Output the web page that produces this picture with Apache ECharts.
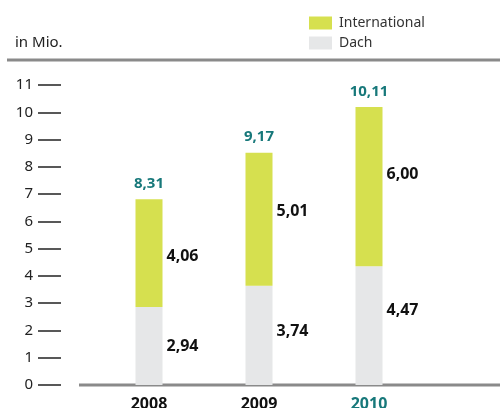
<!DOCTYPE html>
<html>
<head>
<meta charset="UTF-8">
<title>in Mio.</title>
<style>
  html, body { margin: 0; padding: 0; background: #fff; }
  #chart { width: 500px; height: 408px; }
</style>
</head>
<body>
<div id="chart"></div>
<script src="https://cdn.jsdelivr.net/npm/echarts@6/dist/echarts.min.js"></script>
<script>
// data
var years = ['2008', '2009', '2010'];
var dach = [2.94, 3.74, 4.47];
var international = [4.06, 5.01, 6.00];
var totalLabels = ['8,31', '9,17', '10,11'];
var yTicks = [0, 1, 2, 3, 4, 5, 6, 7, 8, 9, 10, 11];

// label nudges (px), as printed in the original
var dachShift = [0, -4, -15];
var intlShift = [3, -8, -12];

var fmt = function (v) { return v.toFixed(2).replace('.', ','); };
var font = 'Noto Sans';
var teal = '#17787a';

var myChart = echarts.init(document.getElementById('chart'));

option = {
    animation: false,
    textStyle: { fontFamily: font },
    title: {
        text: 'in Mio.',
        left: 15,
        top: 35,
        padding: 0,
        textStyle: { fontFamily: font, fontSize: 15, fontWeight: 'normal', color: '#222' }
    },
    legend: {
        orient: 'vertical',
        left: 309,
        top: 15,
        padding: 0,
        icon: 'rect',
        itemWidth: 23,
        itemHeight: 13,
        itemGap: 4,
        data: ['International', 'Dach'],
        textStyle: { fontFamily: font, fontSize: 14, lineHeight: 16, color: '#333', padding: [0, 0, 0, 2] }
    },
    grid: { left: 94, width: 330, top: 85, bottom: 23, outerBoundsMode: 'none' },
    graphic: [
        // rules above the plot and along the base
        { type: 'line', shape: { x1: 7, y1: 60, x2: 500, y2: 60 }, style: { stroke: '#8a8a8a', lineWidth: 3 } },
        { type: 'line', shape: { x1: 79, y1: 385, x2: 500, y2: 385 }, style: { stroke: '#8a8a8a', lineWidth: 3 } }
    ],
    xAxis: {
        type: 'category',
        data: years,
        axisLine: { show: false },
        axisTick: { show: false },
        axisLabel: {
            margin: 11,
            fontFamily: font,
            fontSize: 16,
            fontWeight: 'bold',
            color: function (v) { return v === '2010' ? teal : '#111'; }
        }
    },
    yAxis: [
        {
            type: 'value',
            min: yTicks[0],
            max: yTicks[yTicks.length - 1],
            interval: 1,
            offset: 33,
            splitLine: { show: false },
            axisLine: { show: false },
            axisTick: { show: true, length: 23, lineStyle: { color: '#222', width: 1.5 } },
            axisLabel: { margin: 28, fontFamily: font, fontSize: 15, color: '#222' }
        },
        {
            // the printed bars are drawn on a slightly tighter scale than the tick labels
            type: 'value',
            min: 0,
            max: 11.3,
            show: false
        }
    ],
    series: [
        {
            name: 'Dach',
            type: 'bar',
            stack: 'total',
            yAxisIndex: 1,
            barWidth: 27,
            itemStyle: { color: '#e6e7e8' },
            data: dach.map(function (v, i) {
                return { value: v, label: { offset: [0, dachShift[i]] } };
            }),
            label: {
                show: true,
                position: 'right',
                distance: 4,
                formatter: function (p) { return fmt(p.value); },
                fontFamily: font, fontSize: 16, fontWeight: 'bold', color: '#111'
            }
        },
        {
            name: 'International',
            type: 'bar',
            stack: 'total',
            yAxisIndex: 1,
            barWidth: 27,
            itemStyle: { color: '#d6e04f' },
            data: international.map(function (v, i) {
                return { value: v, label: { offset: [0, intlShift[i]] } };
            }),
            label: {
                show: true,
                position: 'right',
                distance: 4,
                formatter: function (p) { return fmt(p.value); },
                fontFamily: font, fontSize: 16, fontWeight: 'bold', color: '#111'
            }
        },
        {
            // totals as printed above each column
            name: 'Summe',
            type: 'bar',
            stack: 'total',
            yAxisIndex: 1,
            barWidth: 27,
            itemStyle: { color: 'transparent' },
            data: years.map(function () { return 0; }),
            label: {
                show: true,
                position: 'top',
                distance: 8,
                formatter: function (p) { return totalLabels[p.dataIndex]; },
                fontFamily: font, fontSize: 15, fontWeight: 'bold', color: teal
            }
        }
    ]
};
myChart.setOption(option);
</script>
</body>
</html>
